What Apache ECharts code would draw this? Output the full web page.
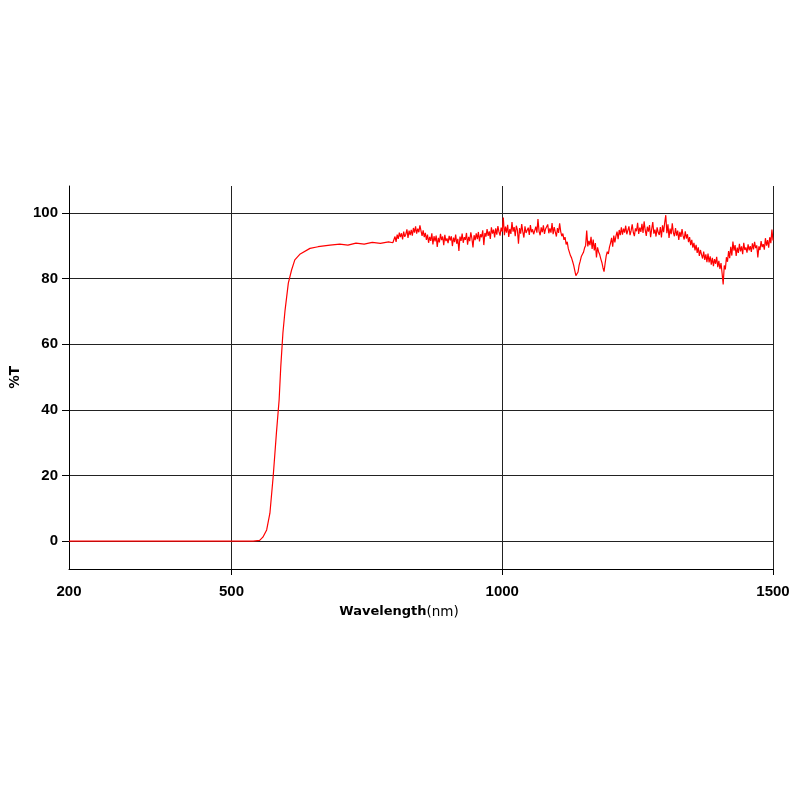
<!DOCTYPE html>
<html>
<head>
<meta charset="utf-8">
<script src="https://cdn.jsdelivr.net/npm/echarts@6/dist/echarts.min.js"></script>
<style>html,body{margin:0;padding:0;background:#fff;}#c{width:800px;height:800px;}</style>
</head>
<body>
<div id="c"></div>
<script>
// Tick labels
var xLabelValues = [200, 500, 1000, 1500];
var xTickValues = [500, 1000, 1500];
var yLabelValues = [0, 20, 40, 60, 80, 100];

// Edge region (smooth part), wavelength (nm) and %T
var edgeWavelengths = [200, 540, 552, 558, 565, 571, 577, 583, 588, 591, 595, 599, 605, 611, 617, 627, 645, 660, 682, 700, 715, 730, 745, 760, 775, 790, 798];
var edgeValues =      [0,   0,   0.2, 1.2, 3.4, 8.5, 19.6, 32.9, 43, 53, 63.4, 70.4, 78.6, 82.6, 85.7, 87.5, 89.2, 89.7, 90.2, 90.5, 90.2, 90.8, 90.5, 91.0, 90.7, 91.2, 90.9];

// Noisy NIR region: sampled every 2 nm from 800 to 1500 nm
var nirStart = 800;
var nirStep = 2;
var nirValues = [
  // 800-830
  91.5, 92.8, 91.2, 93.4, 92.1, 94.0, 92.6, 93.8, 91.9, 94.3, 92.7, 93.5, 95.0, 92.4, 94.6, 93.2,
  // 832-860
  94.8, 93.1, 95.4, 94.0, 95.9, 93.7, 95.2, 94.1, 96.2, 94.5, 93.0, 94.7, 92.6, 93.9, 91.8,
  // 862-900
  93.4, 90.9, 92.7, 91.5, 93.8, 90.4, 92.9, 91.3, 93.1, 89.6, 92.4, 91.0, 93.6, 91.7, 92.8, 90.2, 93.3, 91.4, 92.2, 90.8,
  // 902-950
  93.0, 91.6, 92.9, 89.9, 92.5, 91.1, 93.4, 90.6, 92.1, 88.4, 92.8, 91.5, 93.7, 90.9, 92.6, 91.8, 93.9, 90.3, 92.7, 91.4, 94.1, 92.2, 89.5, 93.2, 91.7,
  // 952-1000
  93.8, 92.0, 94.2, 91.3, 93.5, 92.6, 94.7, 90.2, 93.9, 92.8, 95.1, 93.0, 94.4, 92.1, 95.6, 93.7, 94.9, 92.5, 95.3, 93.4, 96.0, 94.2, 93.1, 95.5, 94.3,
  // 1002-1060
  98.6, 93.2, 95.8, 94.0, 96.4, 92.7, 95.1, 93.6, 97.2, 94.3, 95.7, 92.9, 96.1, 94.8, 90.6, 95.4, 93.7, 96.6, 94.2, 92.5, 95.9, 93.9, 94.7, 95.5, 93.3, 96.3, 94.1, 95.0, 93.5, 94.6,
  // 1062-1110
  95.8, 94.0, 98.1, 94.4, 93.2, 95.6, 94.1, 96.2, 93.6, 95.1, 94.5, 96.5, 93.8, 95.3, 94.0, 96.9, 93.5, 95.7, 94.2, 92.8, 95.4, 93.9, 96.8, 94.3, 92.9,
  // 1112-1140
  93.7, 91.8, 92.6, 90.4, 91.2, 89.1, 88.6, 87.0, 86.3, 85.2, 84.0, 82.4, 80.9, 80.3, 82.0,
  // 1142-1190
  84.1, 85.3, 86.7, 87.2, 88.0, 89.3, 90.1, 94.6, 89.8, 91.5, 90.2, 92.7, 89.0, 91.9, 88.6, 90.8, 86.4, 89.5, 88.1, 87.3, 86.0, 84.9, 83.3, 82.1, 84.6,
  // 1192-1220
  86.9, 88.2, 87.5, 89.6, 90.8, 92.4, 89.7, 93.1, 91.0, 92.9, 94.3, 92.0, 94.8, 93.2, 95.6,
  // 1222-1290
  93.4, 95.2, 94.0, 96.1, 93.5, 94.7, 95.9, 93.2, 94.6, 96.5, 94.1, 92.9, 95.3, 94.4, 97.0, 93.6, 95.5, 94.2, 96.7, 93.9, 97.4, 94.8, 93.0, 95.8, 94.3, 96.3, 92.6, 95.1, 97.2, 93.7, 94.9, 92.8, 95.6, 94.0, 93.3,
  // 1292-1340
  95.7, 92.5, 96.2, 94.1, 97.0, 99.3, 93.8, 96.5, 92.4, 95.2, 93.5, 96.8, 94.0, 92.9, 95.4, 93.1, 94.6, 91.8, 94.2, 92.7, 95.1, 93.0, 91.9, 94.4, 92.2,
  // 1342-1378
  93.5, 91.1, 92.6, 90.2, 91.8, 89.4, 90.9, 88.6, 90.3, 87.8, 89.5, 86.9, 88.7, 87.3, 86.1, 88.2, 85.7, 87.4, 85.0,
  // 1380-1410
  87.6, 84.9, 86.8, 84.2, 86.3, 83.8, 85.9, 84.5, 86.6, 83.5, 85.4, 82.9, 84.7, 81.6, 78.2, 84.0,
  // 1412-1460
  82.8, 86.5, 85.1, 88.4, 86.2, 89.7, 87.0, 91.3, 88.5, 90.2, 86.9, 89.4, 87.8, 90.6, 88.3, 89.8, 87.4, 90.9, 88.7, 89.5, 87.9, 90.4, 88.6, 89.9, 88.1,
  // 1462-1500
  90.7, 88.9, 91.2, 89.3, 90.1, 86.4, 89.8, 88.7, 91.4, 89.6, 90.5, 88.8, 92.3, 90.0, 91.7, 89.4, 92.6, 90.8, 94.9, 91.6
];

var seriesData = [];
for (var i = 0; i < edgeWavelengths.length; i++) seriesData.push([edgeWavelengths[i], edgeValues[i]]);
for (var j = 0; j < nirValues.length; j++) seriesData.push([nirStart + j * nirStep, nirValues[j]]);

var chart = echarts.init(document.getElementById('c'), null, {renderer: 'canvas'});
var labelFont = {color: '#000', fontFamily: '"Liberation Sans", Arial, sans-serif', fontWeight: 'bold', fontSize: 15};
function plain(v) { return String(v); }
chart.setOption({
  animation: false,
  backgroundColor: '#fff',
  grid: {left: 69, right: 27, top: 186, bottom: 231, containLabel: false},
  xAxis: {
    type: 'value', min: 200, max: 1500,
    axisLine: {show: true, onZero: false, lineStyle: {color: '#000', width: 1}},
    axisTick: {show: true, customValues: xTickValues, length: 6, lineStyle: {color: '#000'}},
    axisLabel: Object.assign({customValues: xLabelValues, margin: 15, formatter: plain}, labelFont),
    splitLine: {show: true, lineStyle: {color: '#222', width: 1}},
    name: '{b|Wavelength}{n|(nm)}',
    nameLocation: 'middle', nameGap: 36,
    nameTextStyle: {
      padding: [0, 44, 0, 0],
      rich: {
        b: {fontFamily: 'DejaVu Sans', fontWeight: 'bold', fontSize: 13, color: '#000'},
        n: {fontFamily: 'DejaVu Sans', fontWeight: 'normal', fontSize: 13.5, color: '#000'}
      }
    }
  },
  yAxis: {
    type: 'value', min: -8.5, max: 108.2,
    axisLine: {show: true, onZero: false, lineStyle: {color: '#000', width: 1}},
    axisTick: {show: true, customValues: yLabelValues, length: 7, lineStyle: {color: '#000'}},
    axisLabel: Object.assign({customValues: yLabelValues, margin: 11, formatter: plain}, labelFont),
    splitLine: {show: true, lineStyle: {color: '#222', width: 1}},
    name: '%T', nameLocation: 'middle', nameGap: 47, nameRotate: 90,
    nameTextStyle: {fontFamily: 'DejaVu Sans', fontWeight: 'bold', fontSize: 13.5, color: '#000'}
  },
  series: [{
    type: 'line', data: seriesData, showSymbol: false, symbol: 'none',
    lineStyle: {color: '#ff0000', width: 1.2}, z: 5
  }]
});
</script>
</body>
</html>
